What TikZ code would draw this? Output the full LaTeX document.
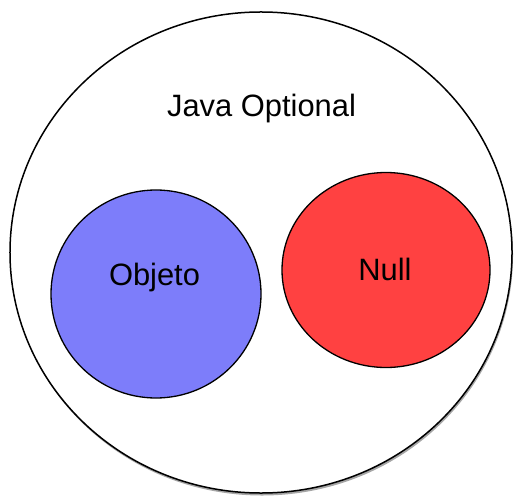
\documentclass[tikz,border=0pt]{standalone}
\usepackage{fontspec}
\setmainfont{Liberation Sans}
\usetikzlibrary{shapes.geometric,shadows}
\definecolor{setblue}{RGB}{125,125,250}
\definecolor{setred}{RGB}{255,65,65}
\begin{document}
\begin{tikzpicture}[x=1bp,y=-1bp,
  setshape/.style={ellipse, draw=black, line width=1.3bp, inner sep=0pt},
  setlabel/.style={anchor=base, inner sep=0pt, font=\fontsize{31}{36}\selectfont}]
  \useasboundingbox (0,0) rectangle (515,496);
  % outer set, with a soft shadow below it
  \node[setshape, fill=white, line width=1.5bp, minimum width=502bp, minimum height=481bp,
        drop shadow={shadow xshift=1bp, shadow yshift=-2.5bp, opacity=0.35, fill=black}]
        (outer) at (261,252.5) {};
  % inner sets
  \node[setshape, fill=setblue, minimum width=210bp, minimum height=208bp] (obj) at (156,294) {};
  \node[setshape, fill=setred, minimum width=208bp, minimum height=195bp] (nul) at (386,270) {};
  % labels
  \node[setlabel] (tOuter) at (261.5,117) {Java Optional};
  \node[setlabel] (tObj) at (154.5,285) {Objeto};
  \node[setlabel] (tNul) at (385,280) {Null};
\end{tikzpicture}
\end{document}
